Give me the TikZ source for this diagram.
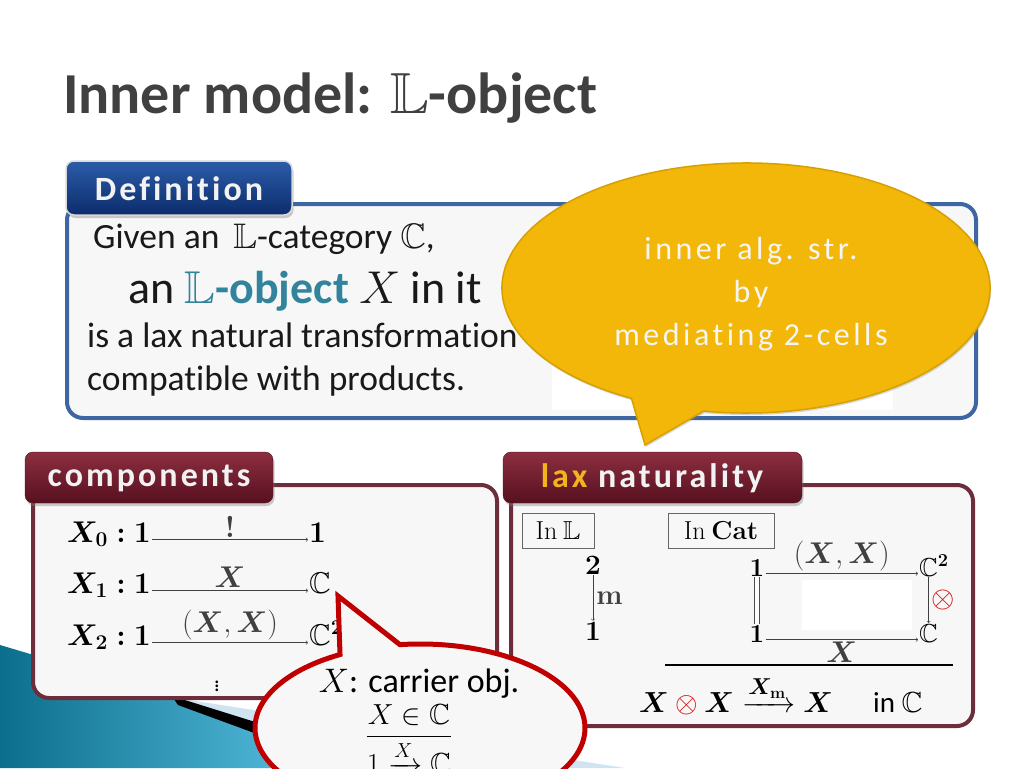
\RequirePackage{fix-cm}
\documentclass[tikz,border=0pt]{standalone}
\usepackage{amsmath}
\usepackage{amssymb}
\DeclareFontFamily{U}{msb}{}
\DeclareFontShape{U}{msb}{m}{n}{<-> msbm10}{}
\usepackage{bm}
\usepackage[no-math]{fontspec}
\setmainfont{Carlito}[Ligatures=NoCommon]
\usepackage{xcolor}
\usetikzlibrary{shadows}

\definecolor{titlegray}{HTML}{404040}
\definecolor{defblue}{HTML}{3D66A3}
\definecolor{tabblueA}{HTML}{2C5CA8}
\definecolor{tabblueB}{HTML}{0C2C6C}
\definecolor{framered}{HTML}{6E2D3A}
\definecolor{tabredA}{HTML}{8C2E40}
\definecolor{tabredB}{HTML}{57101F}
\definecolor{boxfill}{HTML}{F7F7F7}
\definecolor{objteal}{HTML}{31849B}
\definecolor{bubblegold}{HTML}{F3B70A}
\definecolor{goldline}{HTML}{D6A000}
\definecolor{bubblered}{HTML}{C00000}
\definecolor{laxgold}{HTML}{F2B31C}
\definecolor{decoteal}{HTML}{0C6E8C}
\definecolor{decolight}{HTML}{55BCDD}
\definecolor{decopale}{HTML}{CFE4F0}

\begin{document}
\begin{tikzpicture}[x=1pt,y=-1pt,
    frame/.style={rounded corners=16pt,line width=4pt,fill=boxfill},
    tab/.style={rounded corners=8pt,drop shadow={opacity=0.4,shadow xshift=1.5pt,shadow yshift=-3pt}},
    tabtext/.style={text=white!90!gray,font=\fontsize{34}{40}\selectfont\bfseries\addfontfeatures{LetterSpace=9}},
    deftext/.style={anchor=base west,inner sep=0pt,text=black!90,font=\fontsize{35.5}{40}\selectfont},
    row/.style={inner sep=1pt,font=\fontsize{30}{34}\selectfont},
    lbl/.style={inner sep=2pt,font=\fontsize{30}{34}\selectfont},
    sq/.style={inner sep=1pt,font=\fontsize{26}{30}\selectfont},
    arr/.style={->,black!75,line width=0.6pt},
    inbox/.style={draw=black!60,line width=0.8pt,inner sep=3pt,font=\fontsize{26}{30}\selectfont}]
    \pgfmathsetmacro{\goldX}{746}
    \pgfmathsetmacro{\goldY}{288}
    \pgfmathsetmacro{\redX}{420}
    \pgfmathsetmacro{\redY}{728}

    % Hintergrund
    \fill[white] (0,0) rectangle (1024,768);
    \useasboundingbox (0,0) rectangle (1024,768);

    % Deko unten links
    \fill[decopale] (170,697) -- (625,768) -- (260,768) -- cycle;
    \shade[left color=decoteal,right color=decolight] (0,645) -- (175,697) -- (262,733) -- (305,768) -- (0,768) -- cycle;
    \fill[black] (172,696) -- (268,726) -- (268,738) -- (178,705) -- cycle;

    % Titel
    \node[anchor=base west,inner sep=0pt,text=titlegray,font=\fontsize{58}{62}\selectfont\bfseries] (title) at (63,113) {Inner model: $\mathbb{L}$-object};

    % Definition
    \draw[frame,draw=defblue] (67,204) rectangle (976,418);
    \fill[white] (552,240) rectangle (893,410);
    \draw[tab,top color=tabblueA,bottom color=tabblueB,draw=black!15,line width=1.5pt] (66,161) rectangle (292,215);
    \node[tabtext] (deftab) at (179,189) {Definition};
    \node[deftext] (given) at (93,248) {Given an\ \,$\mathbb{L}$-category $\mathbb{C}$,};
    \node[deftext,font=\fontsize{46}{50}\selectfont] (lobj) at (128,303) {an {\color{objteal}\bfseries$\mathbb{L}$-object} $X$ in it};
    \node[deftext] (laxnat) at (87,347) {is a lax natural transformation};
    \node[deftext] (compat) at (87,390) {compatible with products.};

    % Komponenten
    \draw[frame,draw=framered] (33,485) rectangle (497,698);
    \draw[tab,top color=tabredA,bottom color=tabredB,draw=tabredB] (25,452) rectangle (273,503);
    \node[tabtext] (comptab) at (149,478) {components};
    \node[row,anchor=base west] (s0) at (66,542) {$\bm{X_0 : 1}$};
    \node[row,anchor=base west] (t0) at (308,542) {$\mathbf{1}$};
    \node[row,anchor=base west] (s1) at (66,593) {$\bm{X_1 : 1}$};
    \node[row,anchor=base west] (t1) at (308,593) {$\mathbb{C}$};
    \node[row,anchor=base west] (s2) at (66,645) {$\bm{X_2 : 1}$};
    \node[row,anchor=base west] (t2) at (308,645) {$\mathbb{C}^{\mathbf{2}}$};
    \draw[arr] (s0.mid east) -- node[lbl,above] {$\bm{!}$} (t0.mid west);
    \draw[arr] (s1.mid east) -- node[lbl,above=1pt] {$\bm{X}$} (t1.mid west);
    \draw[arr] (s2.mid east) -- node[lbl,above] {$(\bm{X},\bm{X})$} (t2.mid west);
    \node[row,font=\fontsize{22}{24}\selectfont] (dots) at (217,683) {$\vdots$};

    % Lax Natuerlichkeit
    \draw[frame,draw=framered] (511,485) rectangle (973,726);
    \draw[tab,top color=tabredA,bottom color=tabredB,draw=tabredB] (503,452) rectangle (802,503);
    \node[tabtext] (laxtab) at (652,478) {{\color{laxgold}lax} naturality};
    \node[inbox,minimum width=72pt,minimum height=35pt] (inL) at (558,531) {$\mathrm{In}\ \mathbb{L}$};
    \node[inbox,minimum width=106pt,minimum height=35pt] (inCat) at (721,531) {$\mathrm{In}\ \mathbf{Cat}$};
    \node[sq,font=\fontsize{28}{30}\selectfont] (two) at (593,565) {$\mathbf{2}$};
    \node[sq,font=\fontsize{28}{30}\selectfont] (oneL) at (593,631) {$\mathbf{1}$};
    \draw[arr] (two) -- node[sq,right,inner sep=3pt,font=\fontsize{28}{30}\selectfont] {$\bm{\mathrm{m}}$} (oneL);
    \fill[white] (802,580) rectangle (912,630);
    \node[sq,anchor=base] (tl) at (757,576) {$\mathbf{1}$};
    \node[sq,anchor=base west] (tr) at (918,576) {$\mathbb{C}^{\mathbf{2}}$};
    \node[sq,anchor=base] (bl) at (757,642) {$\mathbf{1}$};
    \node[sq,anchor=base west] (br) at (918,642) {$\mathbb{C}$};
    \draw[arr] (tl.mid east) -- node[lbl,above] {$(\bm{X},\bm{X})$} (tr.mid west);
    \draw[arr] (bl.mid east) -- node[lbl,below] {$\bm{X}$} (br.mid west);
    \draw[double,double distance=4pt,black!70,line width=0.7pt] (tl) -- (bl);
    \draw[arr] (br.north |- tr.south) -- node[sq,right,text=red!85!black,inner sep=3pt,font=\fontsize{30}{32}\selectfont] {$\otimes$} (br.north);
    \draw[line width=2.2pt] (665,665) -- (953,665);
    \node[anchor=base west,inner sep=0pt,font=\fontsize{29}{34}\selectfont] (mult) at (639,712) {$\bm{X}\mathbin{\color{red!85!black}\otimes}\bm{X} \xrightarrow{\mbox{\fontsize{23}{24}\selectfont$\bm{X}_{\mathbf{m}}$}} \bm{X}$\hspace{40pt}in $\mathbb{C}$};

    % Gelbe Sprechblase
    \draw[fill=bubblegold,draw=goldline,line width=1.5pt,drop shadow={opacity=0.3,shadow xshift=1pt,shadow yshift=-2pt}] (645,445)
      -- ([shift={(118:244 and 125)}]\goldX,\goldY)
      arc[start angle=118,end angle=460,x radius=244,y radius=125] -- cycle;
    \node[align=center,text=white!92!gray,font=\fontsize{32}{43}\selectfont\addfontfeatures{LetterSpace=11}] (goldtext) at (751,294) {inner alg. str.\\by\\mediating 2-cells};

    % Rote Sprechblase
    \draw[fill=boxfill,draw=bubblered,line width=5pt] (338,596)
      -- ([shift={(263:165 and 84)}]\redX,\redY)
      arc[start angle=263,end angle=601,x radius=165,y radius=84] -- cycle;
    \node[anchor=base,inner sep=0pt,font=\fontsize{34}{38}\selectfont] (carrier) at (419,692) {$X$: carrier obj.};
    \node[inner sep=0pt,font=\fontsize{29}{32}\selectfont] (rule) at (409,739) {$\dfrac{X \in \mathbb{C}}{1 \xrightarrow{X} \mathbb{C}}$};
\end{tikzpicture}
\end{document}
